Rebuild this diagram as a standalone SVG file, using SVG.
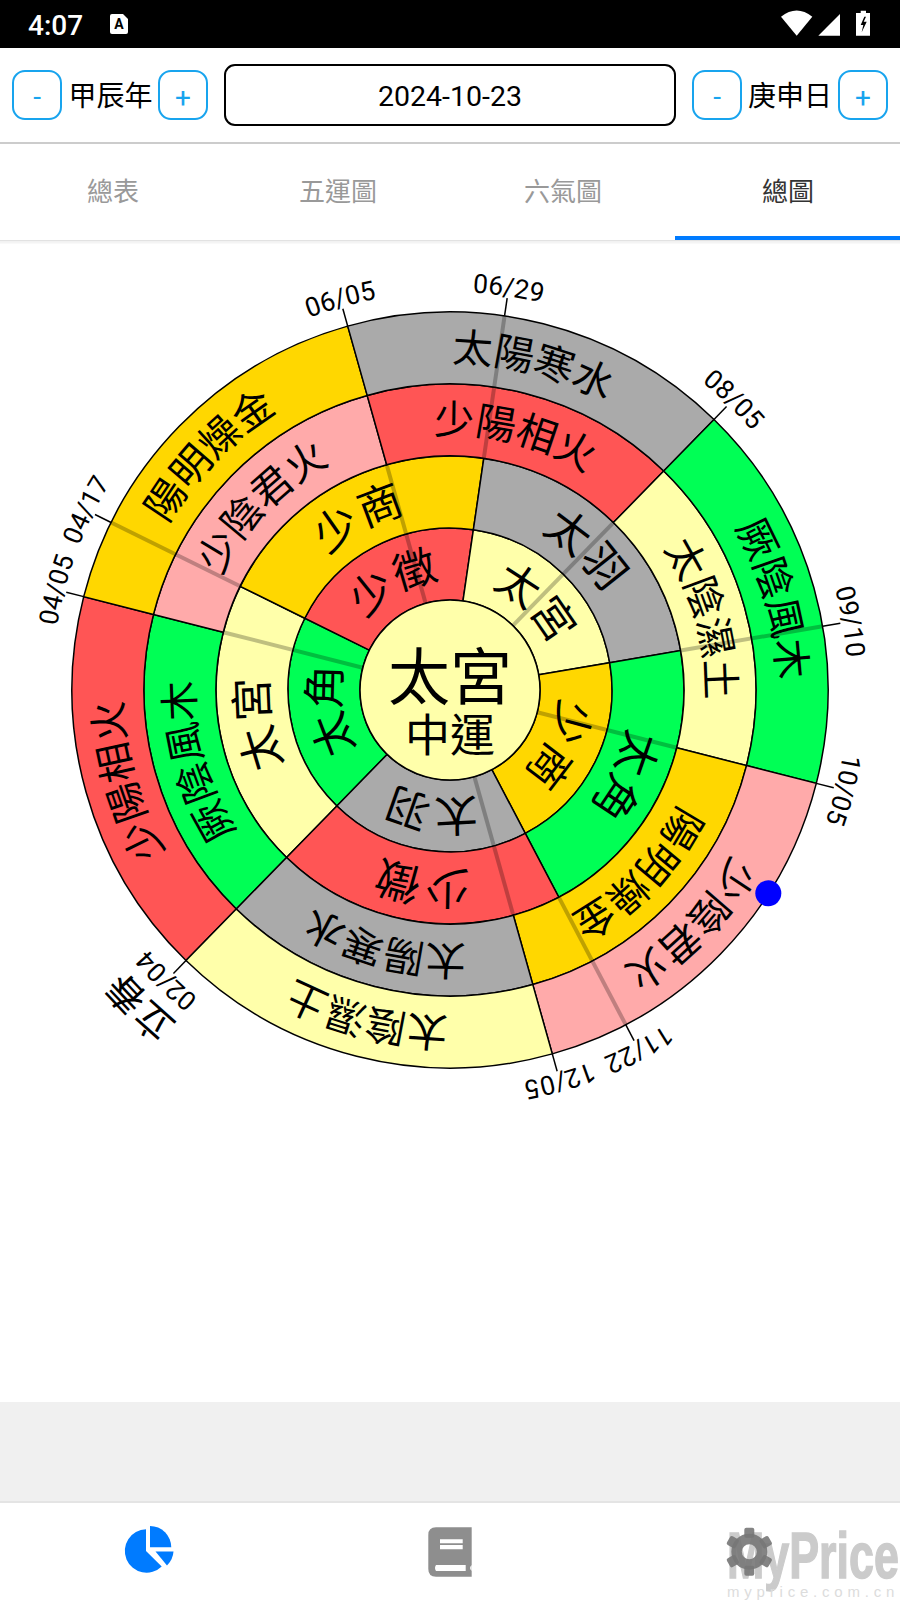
<svg xmlns="http://www.w3.org/2000/svg" width="900" height="1600" viewBox="0 0 900 1600">
<style>
.btn{fill:#fff;stroke:#18a4ee;stroke-width:2}
.bt{font:28px Roboto,sans-serif;fill:#18a4ee;text-anchor:middle}
.lb{font:28px "Noto Sans CJK TC",sans-serif;fill:#000;text-anchor:middle}
.tab{font:26px "Noto Sans CJK TC",sans-serif;fill:#999;text-anchor:middle}
.sec{stroke:#000;stroke-width:1.5}
.g{fill:#00ff55}.e{fill:#ff5555}.p{fill:#ffaaaa}.o{fill:#ffd700}.s{fill:#aaaaaa}.y{fill:#ffffaa}
.t{font-family:"Noto Sans CJK TC",sans-serif;fill:#000;text-anchor:middle}
.t1{font-size:43px}
.t2{font-size:44px;letter-spacing:2px}
.t3{font-size:40px}
.t4{font-size:40px}
.d{font-family:Roboto,sans-serif;font-size:26.500px;fill:#000;text-anchor:middle}
.ov{stroke:#000;stroke-opacity:.25;stroke-width:4;fill:none}
.tk{stroke:#000;stroke-width:1.5;fill:none}
</style>
<defs>
<path id="r1" class="sec" d="M-52.9 -72.81L-95.22 -131.06A162 162 0 0 1 95.22 -131.06L52.9 -72.81A90 90 0 0 0 -52.9 -72.81Z"/>
<path id="r2" class="sec" d="M-95.22 -131.06L-137.54 -189.31A234 234 0 0 1 137.54 -189.31L95.22 -131.06A162 162 0 0 0 -95.22 -131.06Z"/>
<path id="r3" class="sec" d="M-117 -202.65L-153 -265A306 306 0 0 1 153 -265L117 -202.65A234 234 0 0 0 -117 -202.65Z"/>
<path id="r4" class="sec" d="M-153 -265L-189 -327.36A378 378 0 0 1 189 -327.36L153 -265A306 306 0 0 0 -153 -265Z"/>
<path id="a1" d="M-110 0A110 110 0 0 1 110 0"/>
<path id="a2" d="M-182 0A182 182 0 0 1 182 0"/>
<path id="a3" d="M-256 0A256 256 0 0 1 256 0"/>
<path id="a4" d="M-328 0A328 328 0 0 1 328 0"/>
<path id="ad" d="M-398 0A398 398 0 0 1 398 0"/>
<path id="al" d="M-431 0A431 431 0 0 1 431 0"/>
<rect id="tooth" x="-5" y="-24" width="10" height="10" rx="2"/>
</defs>
<rect width="900" height="1600" fill="#fff"/>

<g id="status-bar">
<rect width="900" height="48" fill="#000"/>
<text x="28" y="35" font-family="Roboto,sans-serif" font-size="28" font-weight="500" fill="#fff">4:07</text>
<path d="M112 14H123L128 19V32Q128 34 126 34H112Q110 34 110 32V16Q110 14 112 14Z" fill="#fff"/>
<text x="119" y="29" font-family="Roboto,sans-serif" font-size="14" font-weight="700" fill="#000" text-anchor="middle">A</text>
<path d="M781 16.7Q796.7 4.5 812.3 16.7L796.7 35.7Z" fill="#fff"/>
<path d="M818.3 35.7L840 14V35.7Z" fill="#fff"/>
<path d="M860.7 10.7H866V13H870V35.7H856V13H860.7Z" fill="#fff"/>
<path d="M864.3 16.7L860.7 25H863.3L861.7 32.3L866.7 21.7H863.7L866 16.7Z" fill="#000"/>
</g>

<g id="date-controls">
<rect class="btn" x="13" y="71" width="48" height="48" rx="12"/><text class="bt" x="37" y="106">-</text>
<text class="lb" x="110.500" y="106">甲辰年</text>
<rect class="btn" x="159" y="71" width="48" height="48" rx="12"/><text class="bt" x="183" y="107">+</text>
<rect x="225" y="65" width="450" height="60" rx="10" fill="#fff" stroke="#000" stroke-width="2"/>
<text x="450" y="106" font-family="Roboto,sans-serif" font-size="28.500" fill="#000" text-anchor="middle">2024-10-23</text>
<rect class="btn" x="693" y="71" width="48" height="48" rx="12"/><text class="bt" x="717" y="106">-</text>
<text class="lb" x="790" y="106">庚申日</text>
<rect class="btn" x="839" y="71" width="48" height="48" rx="12"/><text class="bt" x="863" y="107">+</text>
<rect y="142" width="900" height="2" fill="#ccc"/>
</g>

<g id="tabs">
<text class="tab" x="113" y="201">總表</text>
<text class="tab" x="338" y="201">五運圖</text>
<text class="tab" x="563" y="201">六氣圖</text>
<text class="tab" x="788" y="201" style="fill:#333">總圖</text>
<rect x="675" y="236" width="225" height="4" fill="#007bff"/>
<rect y="240" width="900" height="1.500" fill="#e2e2e2"/>
<rect y="241.500" width="900" height="2" fill="#f4f4f4"/>
</g>

<g id="ring1">
<g id="r1-taijiao" transform="translate(450 690) rotate(260.3)"><use href="#r1" class="g"/><text class="t t1"><textPath href="#a1" startOffset="50%">太角</textPath></text></g>
<g id="r1-shaozhi" transform="translate(450 690) rotate(332.3)"><use href="#r1" class="e"/><text class="t t1"><textPath href="#a1" startOffset="50%">少徵</textPath></text></g>
<g id="r1-taigong" transform="translate(450 690) rotate(44.3)"><use href="#r1" class="y"/><text class="t t1"><textPath href="#a1" startOffset="50%">太宮</textPath></text></g>
<g id="r1-shaoshang" transform="translate(450 690) rotate(116.3)"><use href="#r1" class="o"/><text class="t t1"><textPath href="#a1" startOffset="50%">少商</textPath></text></g>
<g id="r1-taiyu" transform="translate(450 690) rotate(188.3)"><use href="#r1" class="s"/><text class="t t1"><textPath href="#a1" startOffset="50%">太羽</textPath></text></g>
</g>
<g id="ring2">
<g id="r2-taigong" transform="translate(450 690) rotate(260.3)"><use href="#r2" class="y"/><text class="t t2"><textPath href="#a2" startOffset="50%">太宮</textPath></text></g>
<g id="r2-shaoshang" transform="translate(450 690) rotate(332.3)"><use href="#r2" class="o"/><text class="t t2"><textPath href="#a2" startOffset="50%">少商</textPath></text></g>
<g id="r2-taiyu" transform="translate(450 690) rotate(44.3)"><use href="#r2" class="s"/><text class="t t2"><textPath href="#a2" startOffset="50%">太羽</textPath></text></g>
<g id="r2-taijiao" transform="translate(450 690) rotate(116.3)"><use href="#r2" class="g"/><text class="t t2"><textPath href="#a2" startOffset="50%">太角</textPath></text></g>
<g id="r2-shaozhi" transform="translate(450 690) rotate(188.3)"><use href="#r2" class="e"/><text class="t t2"><textPath href="#a2" startOffset="50%">少徵</textPath></text></g>
</g>
<g id="ring3">
<g id="r3-jueyin" transform="translate(450 690) rotate(254.3)"><use href="#r3" class="g"/><text class="t t3"><textPath href="#a3" startOffset="50%">厥陰風木</textPath></text></g>
<g id="r3-shaoyin" transform="translate(450 690) rotate(314.3)"><use href="#r3" class="p"/><text class="t t3"><textPath href="#a3" startOffset="50%">少陰君火</textPath></text></g>
<g id="r3-shaoyang" transform="translate(450 690) rotate(14.3)"><use href="#r3" class="e"/><text class="t t3"><textPath href="#a3" startOffset="50%">少陽相火</textPath></text></g>
<g id="r3-taiyin" transform="translate(450 690) rotate(74.3)"><use href="#r3" class="y"/><text class="t t3"><textPath href="#a3" startOffset="50%">太陰濕土</textPath></text></g>
<g id="r3-yangming" transform="translate(450 690) rotate(134.3)"><use href="#r3" class="o"/><text class="t t3"><textPath href="#a3" startOffset="50%">陽明燥金</textPath></text></g>
<g id="r3-taiyang" transform="translate(450 690) rotate(194.3)"><use href="#r3" class="s"/><text class="t t3"><textPath href="#a3" startOffset="50%">太陽寒水</textPath></text></g>
</g>
<g id="ring4">
<g id="r4-shaoyang" transform="translate(450 690) rotate(254.3)"><use href="#r4" class="e"/><text class="t t4"><textPath href="#a4" startOffset="50%">少陽相火</textPath></text></g>
<g id="r4-yangming" transform="translate(450 690) rotate(314.3)"><use href="#r4" class="o"/><text class="t t4"><textPath href="#a4" startOffset="50%">陽明燥金</textPath></text></g>
<g id="r4-taiyang" transform="translate(450 690) rotate(14.3)"><use href="#r4" class="s"/><text class="t t4"><textPath href="#a4" startOffset="50%">太陽寒水</textPath></text></g>
<g id="r4-jueyin" transform="translate(450 690) rotate(74.3)"><use href="#r4" class="g"/><text class="t t4"><textPath href="#a4" startOffset="50%">厥陰風木</textPath></text></g>
<g id="r4-shaoyin" transform="translate(450 690) rotate(134.3)"><use href="#r4" class="p"/><text class="t t4"><textPath href="#a4" startOffset="50%">少陰君火</textPath></text></g>
<g id="r4-taiyin" transform="translate(450 690) rotate(194.3)"><use href="#r4" class="y"/><text class="t t4"><textPath href="#a4" startOffset="50%">太陰濕土</textPath></text></g>
</g>
<g id="center">
<circle cx="450" cy="690" r="90" class="y" stroke="#000" stroke-width="1.500"/>
<text class="t" x="450" y="700" font-size="62">太宮</text>
<text class="t" x="450" y="752" font-size="45">中運</text>
</g>

<g id="connectors">
<g transform="translate(450 690)">
<path class="ov" transform="rotate(284.3)" d="M0 -90V-234"/>
<path class="ov" transform="rotate(344.3)" d="M0 -90V-234"/>
<path class="ov" transform="rotate(44.3)" d="M0 -90V-234"/>
<path class="ov" transform="rotate(104.3)" d="M0 -90V-234"/>
<path class="ov" transform="rotate(164.3)" d="M0 -90V-234"/>
<path class="ov" transform="rotate(296.3)" d="M0 -234V-378"/>
<path class="ov" transform="rotate(8.3)" d="M0 -234V-378"/>
<path class="ov" transform="rotate(80.3)" d="M0 -234V-378"/>
<path class="ov" transform="rotate(152.3)" d="M0 -234V-378"/>
<path class="tk" transform="rotate(344.3)" d="M0 -378V-396"/>
<path class="tk" transform="rotate(8.3)" d="M0 -378V-396"/>
<path class="tk" transform="rotate(44.3)" d="M0 -378V-396"/>
<path class="tk" transform="rotate(80.3)" d="M0 -378V-396"/>
<path class="tk" transform="rotate(104.3)" d="M0 -378V-396"/>
<path class="tk" transform="rotate(152.3)" d="M0 -378V-396"/>
<path class="tk" transform="rotate(164.3)" d="M0 -378V-396"/>
<path class="tk" transform="rotate(224.3)" d="M0 -378V-396"/>
<path class="tk" transform="rotate(284.3)" d="M0 -378V-396"/>
<path class="tk" transform="rotate(296.3)" d="M0 -378V-396"/>
</g>
</g>

<g id="dates">
<g transform="translate(450 690) rotate(344.3)"><text class="d"><textPath href="#ad" startOffset="50%">06/05</textPath></text></g>
<g transform="translate(450 690) rotate(8.3)"><text class="d"><textPath href="#ad" startOffset="50%">06/29</textPath></text></g>
<g transform="translate(450 690) rotate(44.3)"><text class="d"><textPath href="#ad" startOffset="50%">08/05</textPath></text></g>
<g transform="translate(450 690) rotate(80.3)"><text class="d"><textPath href="#ad" startOffset="50%">09/10</textPath></text></g>
<g transform="translate(450 690) rotate(104.3)"><text class="d"><textPath href="#ad" startOffset="50%">10/05</textPath></text></g>
<g transform="translate(450 690) rotate(152.3)"><text class="d"><textPath href="#ad" startOffset="50%">11/22</textPath></text></g>
<g transform="translate(450 690) rotate(164.3)"><text class="d"><textPath href="#ad" startOffset="50%">12/05</textPath></text></g>
<g transform="translate(450 690) rotate(224.3)"><text class="d"><textPath href="#ad" startOffset="50%">02/04</textPath></text><text class="t" font-size="38"><textPath href="#al" startOffset="50%">立春</textPath></text></g>
<g transform="translate(450 690) rotate(284.3)"><text class="d"><textPath href="#ad" startOffset="50%">04/05</textPath></text></g>
<g transform="translate(450 690) rotate(296.3)"><text class="d"><textPath href="#ad" startOffset="50%">04/17</textPath></text></g>
</g>
<circle id="today-marker" cx="768.3" cy="893.3" r="13" fill="#0000ff"/>

<g id="bottom">
<rect y="1402" width="900" height="100" fill="#f0f0f0"/>
<rect y="1501" width="900" height="2" fill="#e4e4e4"/>
<g id="icon-chart" fill="#007bff">
<path d="M146 1529.300A21.700 21.700 0 1 0 161.700 1566.500L146 1551Z"/>
<path d="M150 1526A21.300 21.300 0 0 1 171.300 1547.300H150Z"/>
<path d="M155.500 1551.500H173.500A21.700 21.700 0 0 1 167 1565.500Z"/>
</g>
<g id="icon-book">
<path d="M436 1527.300H471.700V1576.700H436Q428.300 1576.700 428.300 1569V1535Q428.300 1527.300 436 1527.300Z" fill="#8e8e8e"/>
<path d="M440 1539.300H462.700V1543.300H440ZM440 1545H462.700V1549.300H440ZM436 1565H465.700V1571H436Q434 1568 436 1565ZM471.700 1565Q468.500 1568 471.700 1571Z" fill="#fff"/>
</g>
<g id="watermark">
<text transform="translate(727 1578) scale(.7 1)" font-family="Liberation Sans,sans-serif" font-weight="700" font-size="64" fill="#cbcbcb" stroke="#cbcbcb" stroke-width="1.500">MyPrice</text>
<text x="727" y="1597" font-family="Liberation Sans,sans-serif" font-size="15" fill="#dcdcdc" letter-spacing="4.800">myprice.com.cn</text>
</g>
<g id="icon-gear" fill="#777" transform="translate(749.300 1551.700)" fill-opacity=".9">
<path fill-rule="evenodd" d="M18 0A18 18 0 1 1 -18 0A18 18 0 1 1 18 0ZM7.500 0A7.500 7.500 0 1 0 -7.500 0A7.500 7.500 0 1 0 7.500 0Z"/>
<use href="#tooth"/>
<use href="#tooth" transform="rotate(60)"/>
<use href="#tooth" transform="rotate(120)"/>
<use href="#tooth" transform="rotate(180)"/>
<use href="#tooth" transform="rotate(240)"/>
<use href="#tooth" transform="rotate(300)"/>
</g>
</g>
</svg>
